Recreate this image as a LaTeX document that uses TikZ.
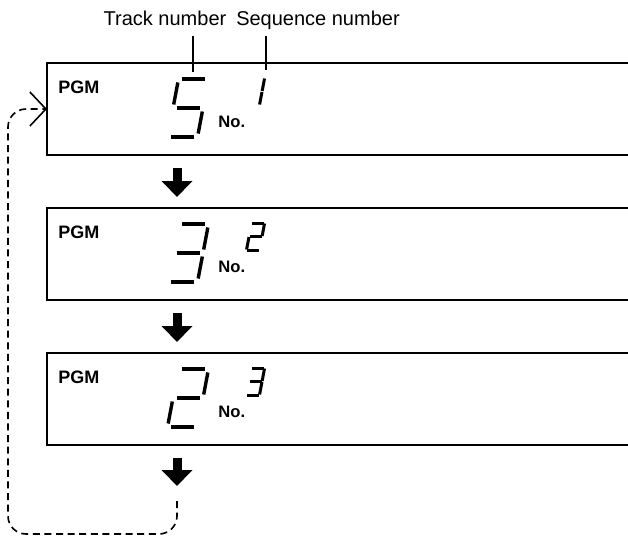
\documentclass[tikz,border=0pt]{standalone}
\usepackage{fontspec}
\setmainfont{Liberation Sans}
\usetikzlibrary{
  positioning,
  arrows.meta,
  calc
}
\tikzset{
  panel/.style={
    draw=black, line width=1pt, rectangle,
    minimum width=296.5pt, minimum height=46pt,
    inner sep=0pt, outer sep=0pt
  },
  pgmlabel/.style={
    font=\fontsize{9}{10}\selectfont\bfseries, inner sep=0pt, anchor=base west
  },
  nolabel/.style={
    font=\fontsize{8.3}{9}\selectfont\bfseries, inner sep=0pt, anchor=base west
  },
  toplabel/.style={
    font=\fontsize{10}{12}\selectfont, inner sep=0pt, anchor=base
  },
  leader/.style={
    line width=1pt
  },
  fatarrow/.style={
    line width=4.5pt, -{Triangle[length=8pt,width=15pt]},
    shorten <=6.5pt, shorten >=5.5pt
  },
  loopline/.style={
    line width=0.8pt, dash pattern=on 3.5pt off 2.3pt, rounded corners=9pt,
    -{Straight Barb[length=8pt,width=17pt]}
  }
}
% seven-segment parts, v pointing up
\newcommand{\segA}{(0,\sgh) -- (\sgw,\sgh)}
\newcommand{\segB}{(\sgw+\sgg,\sgh/2+\sgg) -- (\sgw+\sgg,\sgh-\sgg)}
\newcommand{\segC}{(\sgw+\sgg,\sgg) -- (\sgw+\sgg,\sgh/2-\sgg)}
\newcommand{\segD}{(0,0) -- (\sgw,0)}
\newcommand{\segE}{(-\sgg,\sgg) -- (-\sgg,\sgh/2-\sgg)}
\newcommand{\segF}{(-\sgg,\sgh/2+\sgg) -- (-\sgg,\sgh-\sgg)}
\newcommand{\segG}{(0,\sgh/2) -- (\sgw,\sgh/2)}
\newcommand{\segdigit}[6]{%
  \begin{scope}[shift={#1}, xslant=0.19, yscale=-1]
    \def\sgw{#2}\def\sgh{#3}\def\sgg{#4}
    \foreach \s in {#6} {\draw[line width=#5] \csname seg\s\endcsname;}
  \end{scope}}
\newcommand{\bigdigit}[2]{\segdigit{#1}{23}{58}{3.5}{1.7pt}{#2}}
\newcommand{\smalldigit}[2]{\segdigit{#1}{12}{27}{0.5}{1.5pt}{#2}}

\begin{document}
\begin{tikzpicture}[x=0.5pt, y=-0.5pt]
  \useasboundingbox (0,0) rectangle (628,537);

  \node[panel, anchor=north west] (panel1) at (47,63) {};
  \node[panel, below=26.5pt of panel1] (panel2) {};
  \node[panel, below=26.5pt of panel2] (panel3) {};

  \foreach \p in {panel1,panel2,panel3} {
    \node[pgmlabel] (pgm-\p) at ($(\p.north west)+(11,30)$) {PGM};
    \node[nolabel] (no-\p) at ($(\p.north west)+(171,64)$) {No.};
  }

  % track number (big) and sequence number (small)
  \bigdigit{($(panel1.north west)+(124,74)$)}{A,F,G,C,D}
  \bigdigit{($(panel2.north west)+(124,74)$)}{A,B,G,C,D}
  \bigdigit{($(panel3.north west)+(124,74)$)}{A,B,G,E,D}
  \smalldigit{($(panel1.north west)+(200,42)$)}{B,C}
  \smalldigit{($(panel2.north west)+(200,42)$)}{A,B,G,E,D}
  \smalldigit{($(panel3.north west)+(200,42)$)}{A,B,G,C,D}

  \node[toplabel] (tracklbl) at (165,25) {Track number};
  \node[toplabel] (seqlbl) at (318,25) {Sequence number};
  \coordinate (trackpt) at (193,72);
  \coordinate (seqpt) at (266,70);
  \draw[leader, shorten <=5pt] (tracklbl.south -| trackpt) -- (trackpt);
  \draw[leader, shorten <=3pt] (seqlbl.south -| seqpt) -- (seqpt);

  \coordinate (axis) at (177,0);
  \draw[fatarrow] (panel1.south -| axis) -- (panel2.north -| axis);
  \draw[fatarrow] (panel2.south -| axis) -- (panel3.north -| axis);
  \coordinate (arrowend) at ($(panel3.south -| axis)+(0,41)$);
  \draw[fatarrow, shorten >=0pt] (panel3.south -| axis) -- (arrowend);

  \coordinate (loopstart) at ($(panel3.south -| axis)+(0,56)$);
  \coordinate (loopcorner) at (8,534);
  \draw[loopline] (loopstart) |- (loopcorner) |- (panel1.west);
\end{tikzpicture}
\end{document}
